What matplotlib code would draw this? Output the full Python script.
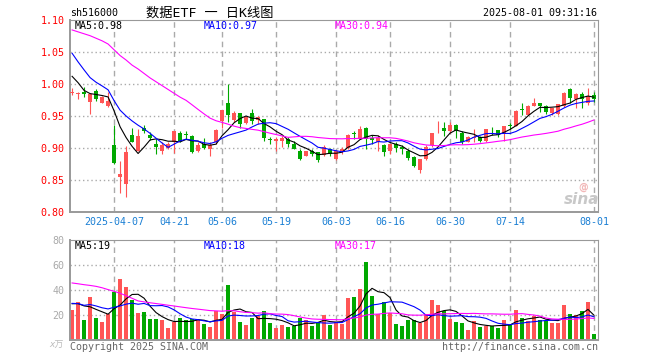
import numpy as np
import pandas as pd
import matplotlib
matplotlib.use("Agg")
import matplotlib.pyplot as plt

holidays = ['2025-04-04', '2025-05-01', '2025-05-02', '2025-05-05', '2025-06-02']
days = pd.bdate_range('2025-03-26', '2025-08-01')
days = days[~days.isin(pd.to_datetime(holidays))]

opens = [0.986, 0.984, 0.987, 0.972, 0.989, 0.971, 0.965, 0.904, 0.855, 0.844,
         0.921, 0.895, 0.932, 0.921, 0.906, 0.895, 0.900, 0.909, 0.924, 0.922,
         0.918, 0.895, 0.907, 0.898, 0.909, 0.942, 0.970, 0.943, 0.954, 0.939,
         0.955, 0.943, 0.946, 0.914, 0.911, 0.911, 0.914, 0.907, 0.896, 0.888,
         0.895, 0.893, 0.889, 0.898, 0.883, 0.896, 0.900, 0.924, 0.914, 0.932,
         0.915, 0.910, 0.904, 0.895, 0.907, 0.901, 0.895, 0.886, 0.866, 0.883,
         0.904, 0.926, 0.932, 0.927, 0.936, 0.924, 0.910, 0.915, 0.917, 0.911,
         0.927, 0.928, 0.922, 0.936, 0.935, 0.960, 0.952, 0.966, 0.970, 0.966,
         0.955, 0.953, 0.966, 0.992, 0.976, 0.985, 0.970, 0.983]
highs = [0.993, 0.988, 0.996, 0.985, 0.992, 0.982, 0.987, 0.936, 0.879, 0.903,
         0.932, 0.930, 0.936, 0.925, 0.914, 0.909, 0.909, 0.927, 0.927, 0.927,
         0.920, 0.909, 0.915, 0.909, 0.930, 0.960, 1.000, 0.958, 0.954, 0.950,
         0.961, 0.950, 0.946, 0.917, 0.917, 0.919, 0.917, 0.911, 0.899, 0.896,
         0.899, 0.893, 0.904, 0.900, 0.897, 0.901, 0.922, 0.927, 0.934, 0.933,
         0.921, 0.920, 0.906, 0.907, 0.909, 0.904, 0.899, 0.888, 0.883, 0.904,
         0.924, 0.942, 0.940, 0.940, 0.937, 0.927, 0.918, 0.930, 0.919, 0.930,
         0.933, 0.928, 0.935, 0.939, 0.959, 0.970, 0.967, 0.978, 0.970, 0.967,
         0.963, 0.969, 0.988, 0.994, 0.986, 0.988, 0.994, 0.988]
lows = [0.983, 0.977, 0.979, 0.953, 0.973, 0.970, 0.964, 0.875, 0.829, 0.824,
        0.910, 0.895, 0.923, 0.912, 0.890, 0.890, 0.898, 0.892, 0.910, 0.914,
        0.892, 0.893, 0.898, 0.888, 0.907, 0.932, 0.940, 0.940, 0.932, 0.937,
        0.937, 0.937, 0.911, 0.907, 0.896, 0.902, 0.902, 0.898, 0.882, 0.888,
        0.888, 0.878, 0.888, 0.888, 0.881, 0.890, 0.899, 0.914, 0.914, 0.899,
        0.907, 0.896, 0.888, 0.891, 0.893, 0.890, 0.882, 0.870, 0.861, 0.881,
        0.901, 0.924, 0.919, 0.924, 0.916, 0.906, 0.909, 0.910, 0.909, 0.910,
        0.921, 0.917, 0.911, 0.930, 0.935, 0.952, 0.952, 0.965, 0.956, 0.953,
        0.952, 0.952, 0.964, 0.970, 0.963, 0.963, 0.967, 0.972]
closes = [0.987, 0.985, 0.985, 0.984, 0.977, 0.979, 0.974, 0.876, 0.860, 0.893,
          0.910, 0.918, 0.926, 0.916, 0.901, 0.904, 0.906, 0.926, 0.911, 0.920,
          0.893, 0.904, 0.900, 0.905, 0.928, 0.959, 0.951, 0.954, 0.938, 0.948,
          0.942, 0.948, 0.915, 0.912, 0.914, 0.915, 0.907, 0.898, 0.883, 0.895,
          0.891, 0.881, 0.902, 0.890, 0.895, 0.899, 0.920, 0.922, 0.930, 0.914,
          0.913, 0.916, 0.894, 0.906, 0.900, 0.899, 0.885, 0.872, 0.883, 0.902,
          0.924, 0.927, 0.927, 0.936, 0.927, 0.910, 0.917, 0.917, 0.911, 0.929,
          0.926, 0.921, 0.935, 0.934, 0.958, 0.959, 0.965, 0.971, 0.965, 0.956,
          0.962, 0.969, 0.986, 0.978, 0.985, 0.976, 0.981, 0.977]
# volume, 万手
volumes = [24, 30.4, 16, 34.4, 17.6, 14.4, 20.8, 38.1, 48.8, 42.4,
           32, 21.6, 22.4, 16.8, 16.8, 16, 9.6, 14.7, 17.6, 16,
           16.8, 16, 12.8, 10.4, 22.9, 20.5, 44, 22.1, 14.4, 12,
           17.6, 19.2, 23.2, 13.6, 9.6, 12, 10.4, 11.2, 17.6, 16,
           11.2, 14.4, 20, 12, 14.1, 12.8, 33.9, 34.4, 40.8, 62.4,
           35.2, 20.5, 30.4, 21.3, 12.8, 11.2, 16, 16, 13.9, 20.8,
           32, 28, 22.9, 16.8, 14.7, 13.9, 8, 15.2, 10.4, 11.2,
           11.2, 9.6, 16, 12, 24, 17.6, 15.2, 19.2, 16, 15.2,
           13.6, 13.6, 28, 20.8, 20, 23.2, 30.4, 4.8]
# estimated sessions before the window (only feed the moving averages)
prior_closes = [1.075, 1.075, 1.074, 1.097, 1.099, 1.124, 1.146, 1.130, 1.103, 1.150,
                1.098, 1.136, 1.126, 1.081, 1.084, 1.086, 1.106, 1.091, 1.070, 1.103,
                1.120, 1.110, 1.104, 1.050, 1.036, 1.035, 1.045, 1.009, 0.984]
prior_volumes = [50, 38, 52, 40, 48, 65, 80, 95, 100, 95,
                 85, 45, 38, 36, 35, 30, 34, 38, 36, 36,
                 32, 30, 28, 29, 29, 30, 25, 38, 28]

tick_dates = ['2025-04-07', '2025-04-21', '2025-05-06', '2025-05-19', '2025-06-03',
              '2025-06-16', '2025-06-30', '2025-07-14', '2025-08-01']

RED = '#ff5555'
GREEN = '#00a800'
MA_COLORS = {5: 'black', 10: '#0000ff', 30: '#ff00ff'}
GRID = '#aaaaaa'
MONO = ['DejaVu Sans Mono', 'Noto Sans CJK SC']
plt.rcParams['font.family'] = MONO

n = len(closes)
x = np.arange(n)
o = np.array(opens); h = np.array(highs); l = np.array(lows); c = np.array(closes)
v = np.array(volumes)
up = c >= o
cols = np.where(up, RED, GREEN)

close_all = pd.Series(list(prior_closes) + list(closes))
vol_all = pd.Series(list(prior_volumes) + list(volumes))
np_ = len(prior_closes)
ma_p = {k: close_all.rolling(k).mean().values[np_:] for k in (5, 10, 30)}
ma_v = {k: vol_all.rolling(k).mean().values[np_:] for k in (5, 10, 30)}

tick_idx = [int(np.where(days == pd.Timestamp(d))[0][0]) for d in tick_dates]
tick_lab = ['2025-04-07'] + [d[5:] for d in tick_dates[1:]]

W, H = 660, 360
fig = plt.figure(figsize=(W / 100, H / 100), dpi=100)
ax1 = fig.add_axes([70 / W, 1 - 212 / H, 528 / W, 192 / H])
ax2 = fig.add_axes([70 / W, 1 - 340 / H, 528 / W, 100 / H])

for ax in (ax1, ax2):
    ax.set_xlim(-0.35, n - 0.33)
    for t in tick_idx:
        ax.axvline(t, color=GRID, lw=1, ls=(0, (4, 3)), zorder=0)
    for s in ax.spines.values():
        s.set_color('#999999')
        s.set_linewidth(0.8)
    ax.spines['left'].set_linewidth(1.4)
    ax.spines['bottom'].set_linewidth(1.4)
    ax.tick_params(length=0)

fs = 7.2

# price panel
ax1.set_ylim(0.80, 1.10)
for yv in [0.85, 0.90, 0.95, 1.00, 1.05]:
    ax1.axhline(yv, color=GRID, lw=1, ls=(0, (1, 2)), zorder=0)
ax1.vlines(x, l, h, colors=cols, lw=0.8, zorder=2)
body = np.maximum(np.abs(c - o), 0.0012)
ax1.bar(x, body, bottom=np.minimum(o, c), width=0.8, color=cols, lw=0, zorder=3)
for k in (5, 10, 30):
    ax1.plot(x, ma_p[k], color=MA_COLORS[k], lw=0.8, zorder=4)
ax1.set_yticks(np.arange(0.80, 1.101, 0.05))
ax1.set_yticklabels(['%.2f' % t for t in np.arange(0.80, 1.101, 0.05)])
ax1.tick_params(axis='y', colors='#ff0000', labelsize=fs, pad=4)
ax1.set_xticks(tick_idx)
ax1.set_xticklabels(tick_lab)
ax1.tick_params(axis='x', colors='#1a7fd4', labelsize=fs, pad=3.5)

# volume panel
ax2.set_ylim(0, 80)
for yv in [20, 40, 60]:
    ax2.axhline(yv, color=GRID, lw=1, ls=(0, (1, 2)), zorder=0)
ax2.bar(x, v, width=0.8, color=cols, lw=0, zorder=2)
for k in (5, 10, 30):
    ax2.plot(x, ma_v[k], color=MA_COLORS[k], lw=0.8, zorder=4)
ax2.set_yticks([20, 40, 60, 80])
ax2.tick_params(axis='y', colors='#aaaaaa', labelsize=fs, pad=4)
ax2.set_xticks([])

def px(xp, yp):
    return xp / W, 1 - yp / H

fig.text(*px(70, 13), 'sh516000', fontsize=fs, va='center', ha='left')
fig.text(*px(210, 13), '数据ETF 一 日K线图', fontsize=9.5, va='center', ha='center')
fig.text(*px(597, 13), '2025-08-01 09:31:16', fontsize=fs, va='center', ha='right')

fig.text(*px(75, 26), 'MA5:%.2f' % ma_p[5][-1], fontsize=fs, va='center', color='black')
fig.text(*px(204, 26), 'MA10:%.2f' % ma_p[10][-1], fontsize=fs, va='center', color=MA_COLORS[10])
fig.text(*px(335, 26), 'MA30:%.2f' % ma_p[30][-1], fontsize=fs, va='center', color=MA_COLORS[30])
fig.text(*px(75, 246), 'MA5:%d' % int(ma_v[5][-1]), fontsize=fs, va='center', color='black')
fig.text(*px(204, 246), 'MA10:%d' % int(ma_v[10][-1]), fontsize=fs, va='center', color=MA_COLORS[10])
fig.text(*px(335, 246), 'MA30:%d' % int(ma_v[30][-1]), fontsize=fs, va='center', color=MA_COLORS[30])

fig.text(*px(64, 345), 'x万', fontsize=6.5, va='center', ha='right', color='#bbbbbb', style='italic')
fig.text(*px(70, 347), 'Copyright 2025 SINA.COM', fontsize=fs, va='center', ha='left', color='#666666')
fig.text(*px(598, 347), 'http://finance.sina.com.cn', fontsize=fs, va='center', ha='right', color='#666666')
fig.text(*px(582, 199), 'sina', fontsize=11, va='center', ha='center', color='#c8c8c8',
         weight='bold', style='italic', family='DejaVu Sans')
fig.text(*px(583, 187), '@', fontsize=7, va='center', ha='center', color='#f2b8b8',
         weight='bold', family='DejaVu Sans')

fig.savefig('out.png', dpi=100)
